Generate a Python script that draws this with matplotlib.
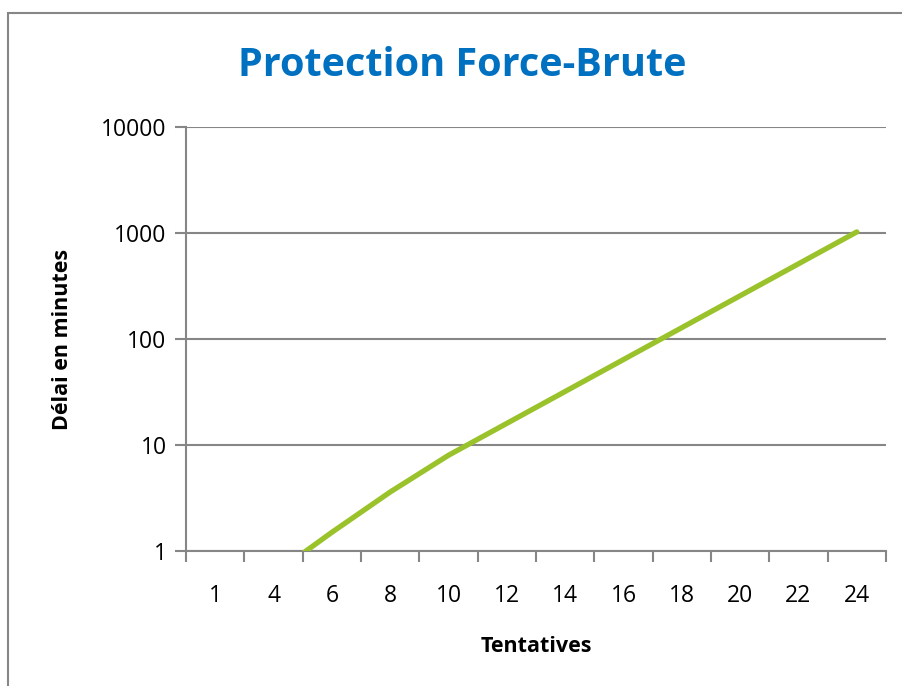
import matplotlib
matplotlib.use('Agg')
import matplotlib.pyplot as plt
from matplotlib.patches import Rectangle
from matplotlib.ticker import FixedLocator, NullFormatter
import numpy as np

# Données
tentatives = ['1', '4', '6', '8', '10', '12', '14', '16', '18', '20', '22', '24']
delai_minutes = [0.25, 0.6, 1.5, 3.6, 8, 16, 32, 64, 128, 256, 512, 1024]
y_ticks = [1, 10, 100, 1000, 10000]

grey = '#868686'
green = '#9AC22B'
blue = '#0070C0'

plt.rcParams['font.family'] = ['Open Sans', 'DejaVu Sans']

fig = plt.figure(figsize=(9.02, 6.86), dpi=100)

# cadre du graphique (Excel chart area)
fig.patches.append(Rectangle((8 / 902, -0.05), 1.2, 1 - 13 / 686 + 0.05,
                             transform=fig.transFigure, fill=False,
                             edgecolor=grey, linewidth=1.5))

ax = fig.add_axes([186 / 902, 1 - 551 / 686, 700 / 902, 424 / 686])

x = np.arange(len(tentatives))
ax.plot(x, delai_minutes, color=green, linewidth=3.8, solid_capstyle='round',
        solid_joinstyle='round', zorder=3)

ax.set_yscale('log')
ax.set_ylim(1, 10000)
ax.set_xlim(-0.5, len(tentatives) - 0.5)

ax.yaxis.set_major_locator(FixedLocator(y_ticks))
ax.set_yticklabels([str(v) for v in y_ticks])
ax.yaxis.set_minor_locator(FixedLocator([]))
ax.yaxis.grid(True, color=grey, linewidth=1.5)
ax.set_axisbelow(True)

ax.set_xticks(x)
ax.set_xticklabels(tentatives)
ax.xaxis.set_minor_locator(FixedLocator(np.arange(len(tentatives) + 1) - 0.5))
ax.xaxis.set_minor_formatter(NullFormatter())
ax.tick_params(axis='x', which='major', length=0, pad=24, labelsize=16.5)
ax.tick_params(axis='x', which='minor', length=8, width=1.5, color=grey, direction='out')
ax.tick_params(axis='y', which='major', length=8, width=1.5, color=grey, direction='out',
               pad=6, labelsize=16.5)

for side in ['top', 'right']:
    ax.spines[side].set_visible(False)
for side in ['left', 'bottom']:
    ax.spines[side].set_color(grey)
    ax.spines[side].set_linewidth(1.5)

ax.set_xlabel('Tentatives', fontsize=15.5, fontweight='bold', labelpad=20)
ax.set_ylabel('Délai en minutes', fontsize=15.5, fontweight='bold', labelpad=20)

fig.text(462 / 902, 1 - 66 / 686, 'Protection Force-Brute', color=blue,
         fontsize=28.5, fontweight='bold', ha='center', va='center')

fig.savefig('out.png', dpi=100)
